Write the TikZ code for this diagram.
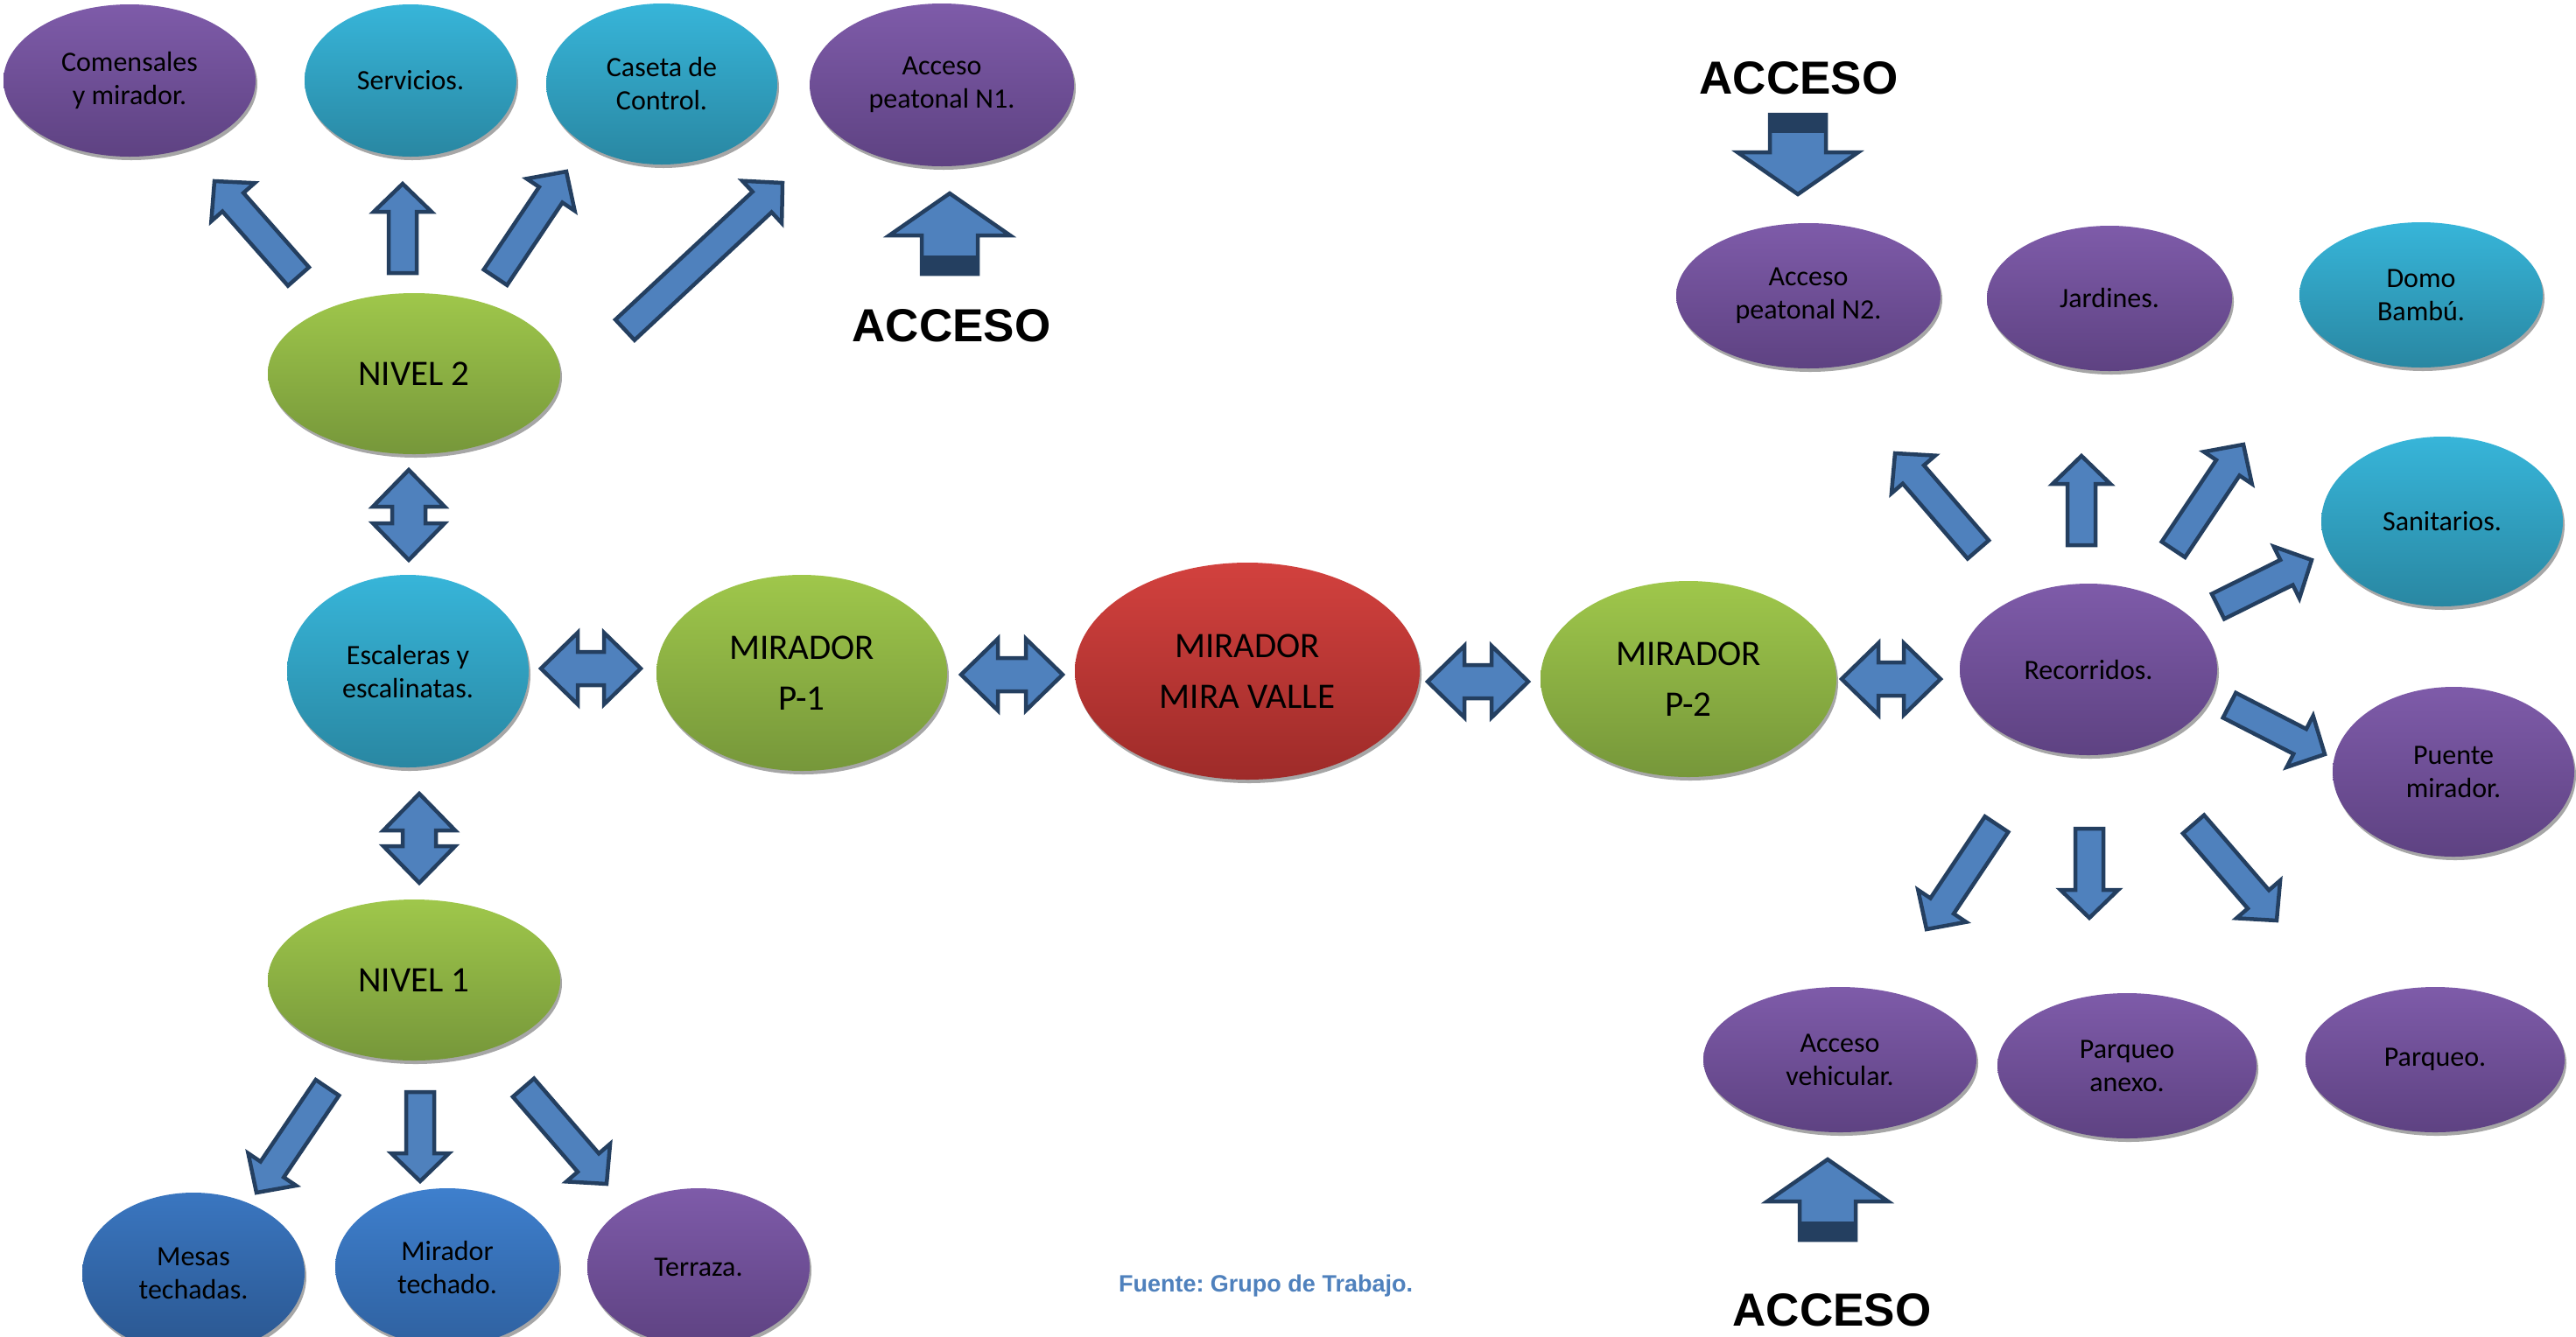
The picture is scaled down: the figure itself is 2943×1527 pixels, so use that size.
\documentclass[tikz,border=0pt]{standalone}
\usepackage{fontspec}
\setmainfont{Carlito}
\newfontfamily\arialfont{Liberation Sans}
\usetikzlibrary{calc,shapes.geometric,shadows}
\frenchspacing

\definecolor{arrfill}{HTML}{4F81BD}
\definecolor{arrdraw}{HTML}{243F60}
\definecolor{purT}{HTML}{7E5BA9}
\definecolor{purB}{HTML}{5E4282}
\definecolor{cyaT}{HTML}{37B5D9}
\definecolor{cyaB}{HTML}{2987A2}
\definecolor{greT}{HTML}{9FC74B}
\definecolor{greB}{HTML}{76973A}
\definecolor{redT}{HTML}{D2413E}
\definecolor{redB}{HTML}{9E2B29}
\definecolor{bluT}{HTML}{3E7FCD}
\definecolor{bluB}{HTML}{2F61A0}
\definecolor{dbT}{HTML}{3A76C0}
\definecolor{dbB}{HTML}{2A568F}
\definecolor{fuente}{HTML}{4F81BD}

\tikzset{
  bub/.style={ellipse, inner sep=0pt, align=center, text=black,
    general shadow={fill=black!35, shadow xshift=2pt, shadow yshift=-4pt}},
  purp/.style={bub, top color=purT, bottom color=purB},
  cyan/.style={bub, top color=cyaT, bottom color=cyaB},
  gree/.style={bub, top color=greT, bottom color=greB},
  redd/.style={bub, top color=redT, bottom color=redB},
  blue/.style={bub, top color=bluT, bottom color=bluB},
  dblue/.style={bub, top color=dbT, bottom color=dbB},
  sm/.style={font=\fontsize{32}{38}\selectfont},
  bg/.style={font=\fontsize{41}{58}\selectfont},
  barr/.style={fill=arrfill, draw=arrdraw, line width=4.5pt, line join=miter},
  acctext/.style={inner sep=0pt, font=\arialfont\bfseries\fontsize{53}{60}\selectfont},
  srctext/.style={inner sep=0pt, text=fuente, font=\arialfont\bfseries\fontsize{27}{32}\selectfont},
}

% #1 style, #2 name, #3 x, #4 y(down), #5 rx, #6 ry, #7 text
\newcommand\bub[7]{\node[#1, minimum width={2*#5}, minimum height={2*#6}] (#2) at (#3,-#4) {#7};}

% block arrow: #1 start, #2 tip, #3 shaft half, #4 head half, #5 head length
\newcommand\blockarrow[5]{%
  \coordinate (hh) at ($(#2)!#5!(#1)$);
  \draw[barr] ($(#1)!#3!90:(#2)$) -- ($(hh)!#3!90:(#2)$) -- ($(hh)!#4!90:(#2)$)
    -- (#2) -- ($(hh)!#4!-90:(#2)$) -- ($(hh)!#3!-90:(#2)$) -- ($(#1)!#3!-90:(#2)$) -- cycle;}
\newcommand\sarr[2]{\blockarrow{#1}{#2}{16pt}{33pt}{32pt}}
% double arrow
\newcommand\darr[2]{%
  \coordinate (hA) at ($(#1)!42pt!(#2)$);
  \coordinate (hB) at ($(#2)!42pt!(#1)$);
  \draw[barr] (#1) -- ($(hA)!41pt!90:(#2)$) -- ($(hA)!19pt!90:(#2)$) -- ($(hB)!19pt!-90:(#1)$)
    -- ($(hB)!41pt!-90:(#1)$) -- (#2) -- ($(hB)!41pt!90:(#1)$) -- ($(hB)!19pt!90:(#1)$)
    -- ($(hA)!19pt!-90:(#2)$) -- ($(hA)!41pt!-90:(#2)$) -- cycle;}
% access arrow with dark band at the tail
\newcommand\accarr[2]{%
  \blockarrow{#1}{#2}{32pt}{69pt}{48pt}
  \coordinate (bb) at ($(#1)!19pt!(#2)$);
  \filldraw[arrdraw, line width=4.5pt] ($(#1)!32pt!90:(#2)$) -- ($(bb)!32pt!90:(#2)$)
    -- ($(bb)!32pt!-90:(#2)$) -- ($(#1)!32pt!-90:(#2)$) -- cycle;}

\begin{document}
\begin{tikzpicture}[x=1pt,y=1pt]
\path[use as bounding box, fill=white] (0,-1527) rectangle (2943,0);
\clip (0,-1527) rectangle (2943,0);

% ---------- ellipses ----------
\bub{purp,sm}{com}{148}{92}{144}{87}{Comensales\\y mirador.}
\bub{cyan,sm}{serv}{469}{92}{121}{87}{Servicios.}
\bub{cyan,sm}{cas}{756}{96}{132}{92}{Caseta de\\Control.}
\bub{purp,sm}{acc1}{1076}{97}{151}{93}{Acceso\\peatonal N1.}
\bub{gree,bg}{niv2}{473}{427}{167}{92}{NIVEL 2}
\bub{cyan,sm}{esc}{466}{767}{138}{110}{Escaleras y\\escalinatas.}
\bub{gree,bg}{p1}{916}{769}{166}{112}{MIRADOR\\P-1}
\bub{redd,bg}{mv}{1425}{767}{197}{124}{MIRADOR\\MIRA VALLE}
\bub{gree,bg}{p2}{1929}{776}{169}{112}{MIRADOR\\P-2}
\bub{purp,sm}{rec}{2386}{765}{147}{98}{Recorridos.}
\bub{gree,bg}{niv1}{473}{1120}{167}{92}{NIVEL 1}
\bub{dblue,sm}{mesas}{221}{1455}{127}{92}{Mesas\\techadas.}
\bub{blue,sm}{mirt}{511}{1448}{128}{90}{Mirador\\techado.}
\bub{purp,sm}{terr}{798}{1448}{127}{90}{Terraza.}
\bub{purp,sm}{acc2}{2066}{338}{151}{83}{Acceso\\peatonal N2.}
\bub{purp,sm}{jard}{2410}{341}{140}{83}{Jardines.}
\bub{cyan,sm}{domo}{2766}{337}{139}{83}{Domo\\Bambú.}
\bub{cyan,sm}{sanit}{2790}{596}{138}{97}{Sanitarios.}
\bub{purp,sm}{puente}{2803}{882}{138}{97}{Puente\\mirador.}
\bub{purp,sm}{accv}{2102}{1211}{156}{83}{Acceso\\vehicular.}
\bub{purp,sm}{parqa}{2430}{1218}{148}{83}{Parqueo\\anexo.}
\bub{purp,sm}{parq}{2782}{1211}{148}{83}{Parqueo.}

% ---------- texts ----------
\node[acctext] (accT1) at (1087,-372) {ACCESO};
\node[acctext] (accT2) at (2055,-89) {ACCESO};
\node[acctext] (accT3) at (2093,-1497) {ACCESO};
\node[srctext, anchor=base] (src) at (1446,-1476) {Fuente: Grupo de Trabajo.};

% ---------- arrow end points ----------
\coordinate (a1s) at (341,-316);  \coordinate (a1e) at (245,-207);
\coordinate (a2s) at (460,-312);  \coordinate (a2e) at (460,-210);
\coordinate (a3s) at (566,-317);  \coordinate (a3e) at (647,-196);
\coordinate (a4s) at (714,-377);  \coordinate (a4e) at (894,-209);
\coordinate (b1s) at (374,-1243); \coordinate (b1e) at (293,-1363);
\coordinate (b2s) at (480,-1248); \coordinate (b2e) at (480,-1350);
\coordinate (b3s) at (598,-1243); \coordinate (b3e) at (693,-1353);
\coordinate (r1s) at (2260,-628); \coordinate (r1e) at (2165,-518);
\coordinate (r2s) at (2378,-623); \coordinate (r2e) at (2378,-521);
\coordinate (r3s) at (2483,-628); \coordinate (r3e) at (2563,-508);
\coordinate (r4s) at (2534,-693); \coordinate (r4e) at (2641,-640);
\coordinate (r5s) at (2547,-806); \coordinate (r5e) at (2656,-862);
\coordinate (r6s) at (2281,-942); \coordinate (r6e) at (2201,-1062);
\coordinate (r7s) at (2387,-947); \coordinate (r7e) at (2387,-1049);
\coordinate (r8s) at (2506,-942); \coordinate (r8e) at (2601,-1052);
\coordinate (d1s) at (467,-537);  \coordinate (d1e) at (467,-640);
\coordinate (d2s) at (479,-907);  \coordinate (d2e) at (479,-1009);
\coordinate (d3s) at (618,-764);  \coordinate (d3e) at (732,-764);
\coordinate (d4s) at (1098,-771); \coordinate (d4e) at (1214,-771);
\coordinate (d5s) at (1631,-779); \coordinate (d5e) at (1746,-779);
\coordinate (d6s) at (2104,-776); \coordinate (d6e) at (2217,-776);
\coordinate (c1s) at (1085,-313); \coordinate (c1e) at (1085,-221);
\coordinate (c2s) at (2054,-131); \coordinate (c2e) at (2054,-222);
\coordinate (c3s) at (2088,-1417); \coordinate (c3e) at (2088,-1325);

% ---------- arrows ----------
\sarr{a1s}{a1e} \sarr{a2s}{a2e} \sarr{a3s}{a3e} \sarr{a4s}{a4e}
\sarr{b1s}{b1e} \sarr{b2s}{b2e} \sarr{b3s}{b3e}
\sarr{r1s}{r1e} \sarr{r2s}{r2e} \sarr{r3s}{r3e} \sarr{r4s}{r4e}
\sarr{r5s}{r5e} \sarr{r6s}{r6e} \sarr{r7s}{r7e} \sarr{r8s}{r8e}
\darr{d1s}{d1e} \darr{d2s}{d2e} \darr{d3s}{d3e}
\darr{d4s}{d4e} \darr{d5s}{d5e} \darr{d6s}{d6e}
\accarr{c1s}{c1e} \accarr{c2s}{c2e} \accarr{c3s}{c3e}
\end{tikzpicture}
\end{document}
